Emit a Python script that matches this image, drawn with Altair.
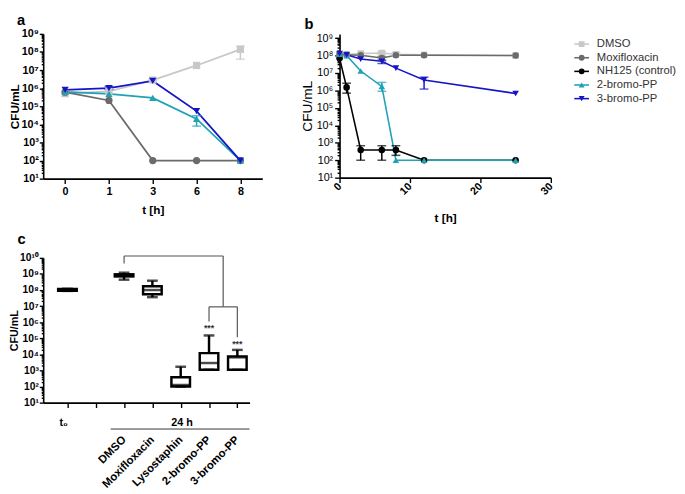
import altair as alt
import pandas as pd

FONT = "Liberation Sans"

series_names = ["DMSO", "Moxifloxacin", "NH125 (control)", "2-bromo-PP", "3-bromo-PP"]
series_colors = ["#c8c8c8", "#6b6b6b", "#000000", "#1fa2b6", "#1515c8"]
series_shapes = ["square", "circle", "circle", "triangle-up", "triangle-down"]

# ---------------- panel a ----------------
a_times = ["0", "1", "3", "6", "8"]
a_dmso = [5.0e5, 6.6e5, 2.8e6, 1.8e7, 1.4e8]
a_moxi = [6.0e5, 2.1e5, 100, 100, 100]
a_2bpp = [6.2e5, 4.8e5, 2.9e5, 2.0e4, 100]
a_3bpp = [8.0e5, 1.0e6, 2.5e6, 5.4e4, 100]
a_err_series = ["DMSO", "2-bromo-PP", "3-bromo-PP", "DMSO"]
a_err_time = ["8", "6", "1", "3"]
a_err_lo = [4.0e7, 8.0e3, 8.5e5, 2.6e6]
a_err_hi = [2.1e8, 3.0e4, 1.25e6, 3.2e6]

# ---------------- panel b ----------------
b_times = [0, 1, 3, 6, 8, 12, 25]
b_dmso = [1.2e8, 1.2e8, 1.3e8, 1.4e8, 1.2e8, 1.1e8, 1.0e8]
b_moxi = [1.2e8, 1.1e8, 1.05e8, 7.2e7, 1.05e8, 1.05e8, 1.0e8]
b_nh125 = [7.0e7, 1.5e6, 390, 390, 390, 100, 100]
b_2bpp = [1.2e8, 1.0e8, 1.3e7, 1.7e6, 100, 100, 100]
b_3bpp = [1.3e8, 1.1e8, 6.3e7, 4.7e7, 1.9e7, 4.0e6, 6.7e5]
b_err_series = ["NH125 (control)", "NH125 (control)", "NH125 (control)", "NH125 (control)",
                "2-bromo-PP", "3-bromo-PP", "3-bromo-PP", "Moxifloxacin", "DMSO", "DMSO"]
b_err_time = [1, 3, 6, 8, 6, 12, 6, 6, 6, 8]
b_err_lo = [7.0e5, 100, 100, 190, 9.0e5, 1.2e6, 3.5e7, 5.0e7, 1.1e8, 1.0e8]
b_err_hi = [2.6e6, 680, 680, 680, 2.9e6, 5.8e6, 5.5e7, 8.5e7, 1.7e8, 1.5e8]

# ---------------- panel c ----------------
c_labels = ["t0", "", "DMSO", "Moxifloxacin", "Lysostaphin", "2-bromo-PP", "3-bromo-PP"]
c_groups = ["t0", "DMSO", "Moxifloxacin", "Lysostaphin", "2-bromo-PP", "3-bromo-PP"]
c_min = [8.8e7, 4.4e8, 3.6e7, 100, 1.1e3, 1.1e3]
c_q1 = [9.0e7, 7.0e8, 5.4e7, 100, 1.1e3, 1.1e3]
c_med = [1.02e8, 8.5e8, 1.0e8, 125, 2.9e3, 6.5e3]
c_q3 = [1.15e8, 9.5e8, 1.7e8, 380, 1.2e4, 7.5e3]
c_max = [1.2e8, 1.2e9, 3.8e8, 1.7e3, 1.5e5, 1.9e4]
brk_x = [2, 2, 5.5, 5, 5, 6]
brk_x2 = [2, 5.5, 5.5, 6, 5, 6]
brk_y = [4.5e9, 1.3e10, 1.3e10, 9.0e6, 9.0e6, 9.0e6]
brk_y2 = [1.3e10, 1.3e10, 9.0e6, 9.0e6, 1.1e6, 1.15e5]
star_x = [5, 6]
star_y = [4.5e5, 4.5e4]

SUP = ["⁰", "¹", "²", "³", "⁴", "⁵", "⁶", "⁷", "⁸", "⁹", "¹⁰"]
SUP_JS = "[" + ",".join("'" + s + "'" for s in SUP) + "]"
DEC_TEST = "abs(log(datum.value)/LN10 - round(log(datum.value)/LN10)) < 0.01"


def log_axis(maxexp, title, bold, label_size, title_size, title_padding, label_padding, major_tick):
    vals = [m * 10 ** k for k in range(1, maxexp) for m in range(1, 10)] + [10 ** maxexp]
    return alt.Axis(
        values=vals,
        labelExpr=f"{DEC_TEST} ? '10' + {SUP_JS}[round(log(datum.value)/LN10)] : ''",
        tickSize={"condition": {"test": DEC_TEST, "value": major_tick}, "value": major_tick / 2},
        labelOverlap=False,
        title=title,
        titleFontWeight="bold" if bold else "normal",
        labelFontWeight="bold" if bold else "normal",
        labelFontSize=label_size,
        titleFontSize=title_size,
        titlePadding=title_padding,
        labelPadding=label_padding,
        grid=False,
    )


color_scale = alt.Scale(domain=series_names, range=series_colors)
shape_scale = alt.Scale(domain=series_names, range=series_shapes)


def long_df(times, data):
    rows = []
    for name, vals in data.items():
        for t, v in zip(times, vals):
            rows.append({"series": name, "t": t, "cfu": v})
    return pd.DataFrame(rows)


col = alt.Color("series:N", scale=color_scale, legend=None)
shp = alt.Shape("series:N", scale=shape_scale, legend=None)

# ---------- panel a chart ----------
a_df = long_df(a_times, {"DMSO": a_dmso, "Moxifloxacin": a_moxi,
                         "2-bromo-PP": a_2bpp, "3-bromo-PP": a_3bpp})
a_err = pd.DataFrame({"series": a_err_series, "t": a_err_time, "lo": a_err_lo, "hi": a_err_hi})
a_x = alt.X("t:O", sort=a_times, scale=alt.Scale(type="point", padding=0.5),
            axis=alt.Axis(title="t [h]", labelAngle=0, labelFontWeight="bold", labelFontSize=11,
                          titleFontWeight="bold", titleFontSize=12, tickSize=5, titlePadding=9))
a_yscale = alt.Scale(type="log", domain=[10, 1e9], nice=False)
a_y = alt.Y("cfu:Q", scale=a_yscale, axis=log_axis(9, "CFU/mL", True, 11, 12, 0, 1, 4))

a_line = alt.Chart(a_df).mark_line(strokeWidth=1.8).encode(x=a_x, y=a_y, color=col, detail="series:N")
a_pts = alt.Chart(a_df).mark_point(filled=True, size=55, opacity=1).encode(x=a_x, y=a_y, color=col, shape=shp)
a_eb = alt.Chart(a_err).mark_rule(strokeWidth=1.5).encode(
    x=a_x, y=alt.Y("lo:Q", scale=a_yscale), y2="hi:Q", color=col)
a_cap_lo = alt.Chart(a_err).mark_tick(orient="horizontal", size=9, thickness=1.5).encode(
    x=a_x, y=alt.Y("lo:Q", scale=a_yscale), color=col)
a_cap_hi = alt.Chart(a_err).mark_tick(orient="horizontal", size=9, thickness=1.5).encode(
    x=a_x, y=alt.Y("hi:Q", scale=a_yscale), color=col)
chart_a = alt.layer(a_line, a_eb, a_cap_lo, a_cap_hi, a_pts).properties(
    width=224, height=148,
    title=alt.TitleParams("a", anchor="start", frame="bounds", fontSize=15, fontWeight="bold",
                          dx=9, offset=0))

# ---------- panel b chart (with legend layers) ----------
b_df = long_df(b_times, {"DMSO": b_dmso, "Moxifloxacin": b_moxi, "NH125 (control)": b_nh125,
                         "2-bromo-PP": b_2bpp, "3-bromo-PP": b_3bpp})
b_err = pd.DataFrame({"series": b_err_series, "t": b_err_time, "lo": b_err_lo, "hi": b_err_hi})
b_x = alt.X("t:Q", scale=alt.Scale(domain=[0, 30], nice=False),
            axis=alt.Axis(title="t [h]", values=[0, 10, 20, 30], labelAngle=-45, labelAlign="right",
                          labelBaseline="middle", labelFontWeight="bold", labelFontSize=11,
                          labelFlush=False, titleFontWeight="bold", titleFontSize=12,
                          tickSize=5, grid=False, titlePadding=17))
b_yscale = alt.Scale(type="log", domain=[10, 1.75e9], nice=False)
b_y = alt.Y("cfu:Q", scale=b_yscale, axis=log_axis(9, "CFU/mL", False, 11, 14, 2, 2, 5))
b_line = alt.Chart(b_df).mark_line(strokeWidth=1.6).encode(x=b_x, y=b_y, color=col, detail="series:N")
b_pts = alt.Chart(b_df).mark_point(filled=True, size=45, opacity=1).encode(x=b_x, y=b_y, color=col, shape=shp)
b_eb = alt.Chart(b_err).mark_rule(strokeWidth=1.5).encode(
    x=b_x, y=alt.Y("lo:Q", scale=b_yscale), y2="hi:Q", color=col)
b_cap_lo = alt.Chart(b_err).mark_tick(orient="horizontal", size=9, thickness=1.5).encode(
    x=b_x, y=alt.Y("lo:Q", scale=b_yscale), color=col)
b_cap_hi = alt.Chart(b_err).mark_tick(orient="horizontal", size=9, thickness=1.5).encode(
    x=b_x, y=alt.Y("hi:Q", scale=b_yscale), color=col)
b_data = alt.layer(b_line, b_eb, b_cap_lo, b_cap_hi, b_pts)

leg_df = pd.DataFrame({"series": series_names, "idx": list(range(len(series_names)))})
leg_y = alt.Y("idx:Q", scale=alt.Scale(domain=[-0.75, 9.8], reverse=True, nice=False, zero=False), axis=None)
leg_line = alt.Chart(leg_df).mark_rule(strokeWidth=1.6).encode(
    x=alt.value(240), x2=alt.value(255), y=leg_y, color=col)
leg_pts = alt.Chart(leg_df).mark_point(filled=True, size=35, opacity=1).encode(
    x=alt.value(247.5), y=leg_y, color=col, shape=shp)
leg_txt = alt.Chart(leg_df).mark_text(align="left", baseline="middle", fontSize=11.5, color="#333").encode(
    x=alt.value(263), y=leg_y, text="series:N")
leg = alt.layer(leg_line, leg_pts, leg_txt)

chart_b = alt.layer(b_data, leg).resolve_scale(y="independent").properties(
    width=216, height=147,
    title=alt.TitleParams("b", anchor="start", frame="bounds", fontSize=15, fontWeight="bold",
                          dx=4, offset=0))

# ---------- panel c chart ----------
c_df = pd.DataFrame({"group": c_groups, "idx": [c_labels.index(g) for g in c_groups],
                     "mn": c_min, "q1": c_q1, "med": c_med, "q3": c_q3, "mx": c_max})
LABELS_JS = "[" + ",".join("'" + (s if i >= 2 else "") + "'" for i, s in enumerate(c_labels)) + "]"
c_x = alt.X("idx:Q", scale=alt.Scale(domain=[-0.683, 6.26], nice=False, zero=False),
            axis=alt.Axis(title=None, values=list(range(len(c_labels))),
                          labelExpr=f"{LABELS_JS}[datum.value]", labelAngle=-45, labelAlign="right",
                          labelBaseline="middle", labelFontWeight="bold", labelFontSize=11.5,
                          labelFlush=False, labelOverlap=False, labelPadding=31, tickSize=5, grid=False))
c_yscale = alt.Scale(type="log", domain=[10, 1e10], nice=False)
c_y_axis = log_axis(10, "CFU/mL", True, 10.5, 11, 0, 1, 4)
c_whisk = alt.Chart(c_df).mark_rule(strokeWidth=2.5, color="black").encode(
    x=c_x, y=alt.Y("mn:Q", scale=c_yscale, axis=c_y_axis), y2="mx:Q")
c_box = alt.Chart(c_df).mark_bar(fill="white", stroke="black", strokeWidth=2.5, size=19).encode(
    x=c_x, y=alt.Y("q1:Q", scale=c_yscale, axis=c_y_axis), y2="q3:Q")
c_medk = alt.Chart(c_df).mark_tick(orient="horizontal", size=19, thickness=2.5, color="black").encode(
    x=c_x, y=alt.Y("med:Q", scale=c_yscale, axis=c_y_axis))
c_caplo = alt.Chart(c_df).mark_tick(orient="horizontal", size=11, thickness=2.5, color="black").encode(
    x=c_x, y=alt.Y("mn:Q", scale=c_yscale, axis=c_y_axis))
c_caphi = alt.Chart(c_df).mark_tick(orient="horizontal", size=11, thickness=2.5, color="black").encode(
    x=c_x, y=alt.Y("mx:Q", scale=c_yscale, axis=c_y_axis))
brk_df = pd.DataFrame({"idx": brk_x, "idx2": brk_x2, "y": brk_y, "y2": brk_y2})
c_brk = alt.Chart(brk_df).mark_rule(strokeWidth=1.2, color="#555").encode(
    x=c_x, x2="idx2:Q", y=alt.Y("y:Q", scale=c_yscale, axis=c_y_axis), y2="y2:Q")
star_df = pd.DataFrame({"idx": star_x, "y": star_y})
c_star = alt.Chart(star_df).mark_text(text="***", fontSize=9, fontWeight="bold", color="#333").encode(
    x=c_x, y=alt.Y("y:Q", scale=c_yscale, axis=c_y_axis))
deco = pd.DataFrame({"k": [0]})
c_t0 = alt.Chart(deco).mark_text(text="t₀", fontSize=11, fontWeight="bold", baseline="middle").encode(
    x=alt.value(21), y=alt.value(169))
c_24 = alt.Chart(deco).mark_text(text="24 h", fontSize=11, fontWeight="bold", baseline="middle").encode(
    x=alt.value(142), y=alt.value(169))
c_line24 = alt.Chart(deco).mark_rule(strokeWidth=1, color="#333").encode(
    x=alt.value(69), x2=alt.value(211), y=alt.value(175))
chart_c = alt.layer(c_whisk, c_box, c_medk, c_caplo, c_caphi, c_brk, c_star, c_t0, c_24, c_line24).properties(
    width=211, height=148,
    title=alt.TitleParams("c", anchor="start", frame="bounds", fontSize=15, fontWeight="bold",
                          dx=9, offset=6))

top = alt.hconcat(chart_a, chart_b, spacing=39)
chart = alt.vconcat(top, chart_c, spacing=8).properties(padding=0).configure(
    font=FONT).configure_view(stroke=None).configure_axis(
    domainColor="black", tickColor="black", labelColor="black", titleColor="black",
    domainWidth=1.6, tickWidth=1.4, grid=False, labelFont=FONT, titleFont=FONT).configure_title(
    font=FONT, color="black")

chart.save("out.html", embed_options={"renderer": "svg", "actions": False})
